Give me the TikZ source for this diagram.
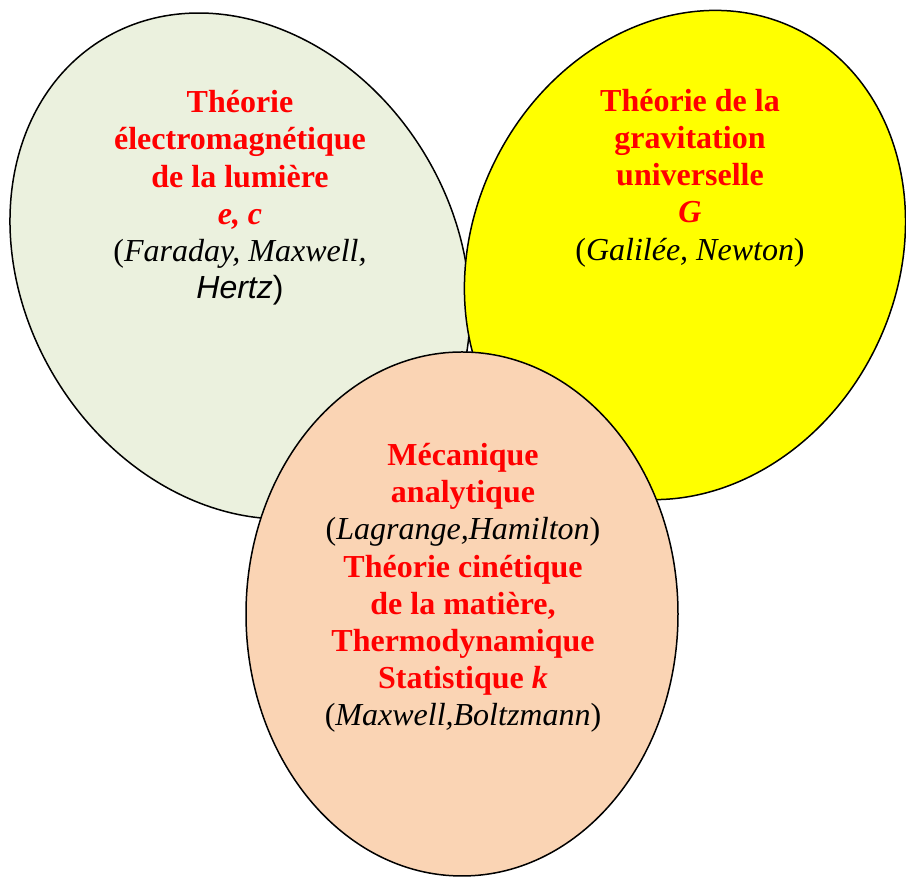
\documentclass[tikz,border=0pt]{standalone}
\usepackage{fontspec}
\setmainfont{Liberation Serif}
\newfontfamily\arialfont{Liberation Sans}
\definecolor{sage}{HTML}{EBF1DE}
\definecolor{peach}{HTML}{FAD4B4}
\definecolor{lemon}{HTML}{FFFF00}
\definecolor{titlered}{HTML}{FF0000}
\newcommand\redbf[1]{\textcolor{titlered}{\bfseries #1}}
\newcommand\redbi[1]{\textcolor{titlered}{\bfseries\itshape #1}}
\begin{document}
\begin{tikzpicture}[x=0.5pt,y=0.5pt,
  bubble/.style={draw=black,line width=0.75pt},
  blocktext/.style={align=center,inner sep=0pt,font=\fontsize{16}{18.6}\selectfont}]
\useasboundingbox (0,0) rectangle (906,877);

% the three overlapping domains
\coordinate (cg) at (240,611);
\coordinate (cy) at (685,622);
\coordinate (cp) at (462,263);
\draw[bubble,fill=sage,rotate around={31:(cg)}] (cg) ellipse [x radius=216,y radius=265];
\draw[bubble,fill=lemon,rotate around={-26.5:(cy)}] (cy) ellipse [x radius=212,y radius=252];
\draw[bubble,fill=peach] (cp) ellipse [x radius=216,y radius=262];

% texts
\node[blocktext] (em) at (240,679) {\redbf{Théorie}\\ \redbf{électromagnétique}\\ \redbf{de la lumière}\\ \redbi{e, c}\\ (\textit{Faraday, Maxwell,}\\ {\arialfont\itshape Hertz}{\arialfont )}};
\node[blocktext] (grav) at (690,699) {\redbf{Théorie de la}\\ \redbf{gravitation}\\ \redbf{universelle}\\ \redbi{G}\\ (\textit{Galilée, Newton})};
\node[blocktext] (meca) at (463,289) {\redbf{Mécanique}\\ \redbf{analytique}\\ (\textit{Lagrange,Hamilton})\\ \redbf{Théorie cinétique}\\ \redbf{de la matière,}\\ \redbf{Thermodynamique}\\ \redbf{Statistique} \redbi{k}\\ (\textit{Maxwell,Boltzmann})};
\end{tikzpicture}
\end{document}
